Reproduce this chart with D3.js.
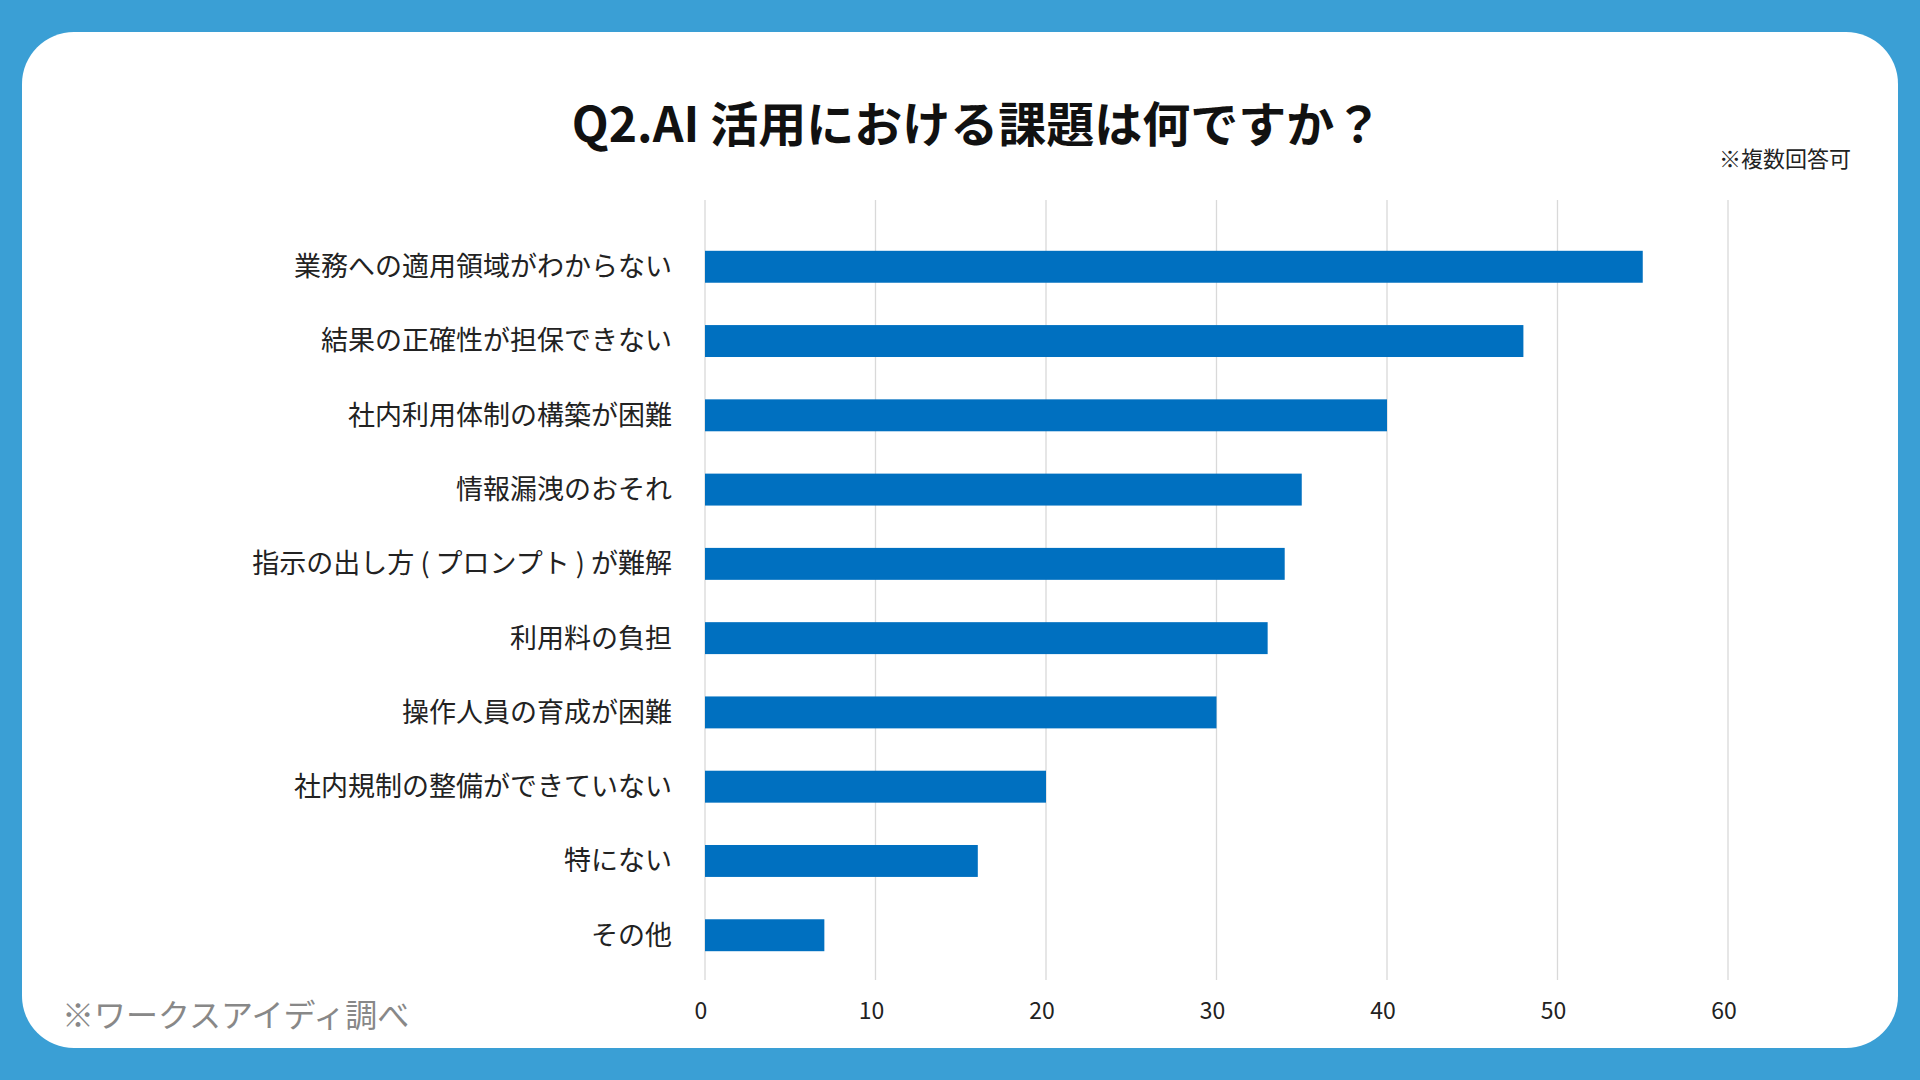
<!DOCTYPE html>
<html><head><meta charset="utf-8">
<script src="https://cdn.jsdelivr.net/npm/d3@7"></script>
<style>body{margin:0;background:#3a9fd5;}svg{display:block;font-family:"Noto Sans CJK JP","Noto Sans",sans-serif;}</style>
</head><body><svg id="c" width="1920" height="1080"></svg>
<script>
const categories=["業務への適用領域がわからない","結果の正確性が担保できない","社内利用体制の構築が困難","情報漏洩のおそれ","指示の出し方 ( プロンプト ) が難解","利用料の負担","操作人員の育成が困難","社内規制の整備ができていない","特にない","その他"];
const values=[55,48,40,35,34,33,30,20,16,7];
const ticks=[0,10,20,30,40,50,60];
const svg=d3.select("#c");
svg.append("rect").attr("width",1920).attr("height",1080).attr("fill","#3a9fd5");
svg.append("rect").attr("x",22).attr("y",32).attr("width",1876).attr("height",1016).attr("rx",52).attr("fill","#fff");
svg.append("text").attr("x",977).attr("y",142).attr("text-anchor","middle").attr("font-size",48).attr("font-weight",700).attr("fill","#111").text("Q2.AI 活用における課題は何ですか？");
svg.append("text").attr("x",1851).attr("y",167).attr("text-anchor","end").attr("font-size",22).attr("fill","#222").text("※複数回答可");
const x=d3.scaleLinear().domain([0,60]).range([705,1728]);
const y=d3.scaleBand().domain(categories).range([230,972]).paddingInner(0.57).paddingOuter(0.28);
svg.selectAll(".g").data(ticks).join("line").attr("x1",d=>x(d)).attr("x2",d=>x(d)).attr("y1",200).attr("y2",980).attr("stroke","#d9d9d9").attr("stroke-width",1.3);
svg.selectAll(".b").data(values).join("rect").attr("x",x(0)).attr("y",(d,i)=>y(categories[i])).attr("width",d=>x(d)-x(0)).attr("height",y.bandwidth()).attr("fill","#0070c0");
svg.selectAll(".l").data(categories).join("text").attr("x",672).attr("y",d=>y(d)+y.bandwidth()/2).attr("dy","0.35em").attr("text-anchor","end").attr("font-size",27).attr("fill","#222").text(d=>d);
svg.selectAll(".t").data(ticks).join("text").attr("x",d=>x(d)-4).attr("y",1019).attr("text-anchor","middle").attr("font-size",23).attr("fill","#222").text(d=>d);
svg.append("text").attr("x",62).attr("y",1027).attr("font-size",32).attr("fill","#888").text("※ワークスアイディ調べ");
</script></body></html>
